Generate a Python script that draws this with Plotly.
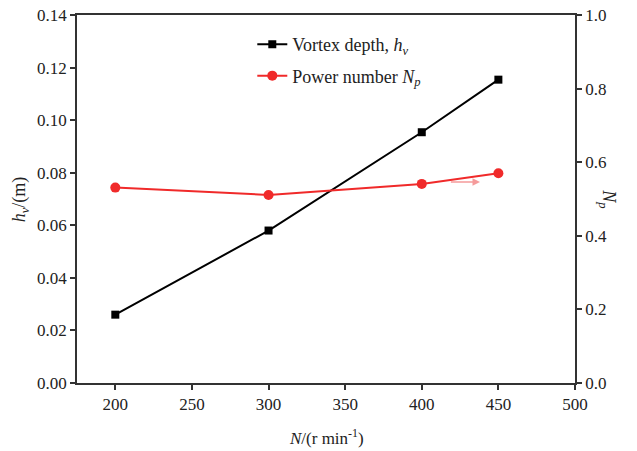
import plotly.graph_objects as go

speed = [200, 300, 400, 450]
vortex_depth = [0.026, 0.058, 0.0954, 0.1154]
power_number = [0.531, 0.511, 0.541, 0.570]

x_ticks = [200, 250, 300, 350, 400, 450, 500]
left_ticks = [0.00, 0.02, 0.04, 0.06, 0.08, 0.10, 0.12, 0.14]
right_ticks = [0.0, 0.2, 0.4, 0.6, 0.8, 1.0]

FONT = "Liberation Serif, Times New Roman, serif"

fig = go.Figure()
fig.add_trace(go.Scatter(
    x=speed, y=vortex_depth, mode="lines+markers",
    name="Vortex depth, <i>h</i><sub><i>v</i></sub>", legendgroup="a",
    line=dict(color="black", width=2),
    marker=dict(symbol="square", size=8, color="black"),
    yaxis="y",
))
fig.add_trace(go.Scatter(
    x=speed, y=power_number, mode="lines+markers",
    name="Power number <i>N</i><sub><i>p</i></sub>", legendgroup="b",
    line=dict(color="#f02a2a", width=2),
    marker=dict(symbol="circle", size=10, color="#f02a2a"),
    yaxis="y2",
))

axis_common = dict(
    showline=True, linecolor="#333", linewidth=1.5,
    ticks="outside", ticklen=5, tickwidth=1.5, tickcolor="#333",
    showgrid=False, zeroline=False, automargin=False,
    tickfont=dict(family=FONT, size=17, color="#222"),
)

fig.update_layout(
    width=637, height=451,
    margin=dict(l=77, r=62, t=15, b=68),
    paper_bgcolor="white", plot_bgcolor="white",
    font=dict(family=FONT, color="#222"),
    showlegend=True,
    legend=dict(
        x=0.352, y=0.97, xanchor="left", yanchor="top",
        bgcolor="rgba(0,0,0,0)", font=dict(family=FONT, size=18, color="#222"),
        tracegroupgap=5,
    ),
    xaxis=dict(
        range=[175, 500], tickvals=x_ticks, mirror=True,
        **axis_common,
    ),
    yaxis=dict(
        range=[0, 0.14], tickvals=left_ticks, tickformat=".2f",
        **axis_common,
    ),
    yaxis2=dict(
        range=[0, 1.0], tickvals=right_ticks, tickformat=".1f",
        overlaying="y", side="right",
        **axis_common,
    ),
)

fig.add_annotation(
    text="<i>N</i>/(r min<sup>-1</sup>)", xref="paper", yref="paper",
    x=0.5, y=-0.147, xanchor="center", yanchor="middle", showarrow=False,
    font=dict(family=FONT, size=17, color="#222"),
)
fig.add_annotation(
    text="<i>h</i><sub><i>v</i></sub>/(m)", xref="paper", yref="paper",
    x=-0.114, y=0.5, xanchor="center", yanchor="middle",
    showarrow=False, textangle=-90,
    font=dict(family=FONT, size=18, color="#222"),
)
fig.add_annotation(
    text="<i>N</i><sub><i>p</i></sub>", xref="paper", yref="paper",
    x=1.066, y=0.5, xanchor="center", yanchor="middle",
    showarrow=False, textangle=90,
    font=dict(family=FONT, size=18, color="#222"),
)

fig.add_annotation(
    x=438, y=0.546, ax=418, ay=0.546,
    xref="x", yref="y2", axref="x", ayref="y2",
    text="", showarrow=True, arrowhead=2, arrowsize=1, arrowwidth=1.5,
    arrowcolor="rgba(240,90,90,0.6)",
)

fig.write_html("out.html", post_script="document.body.style.margin='0';",
               config={"displayModeBar": False})
